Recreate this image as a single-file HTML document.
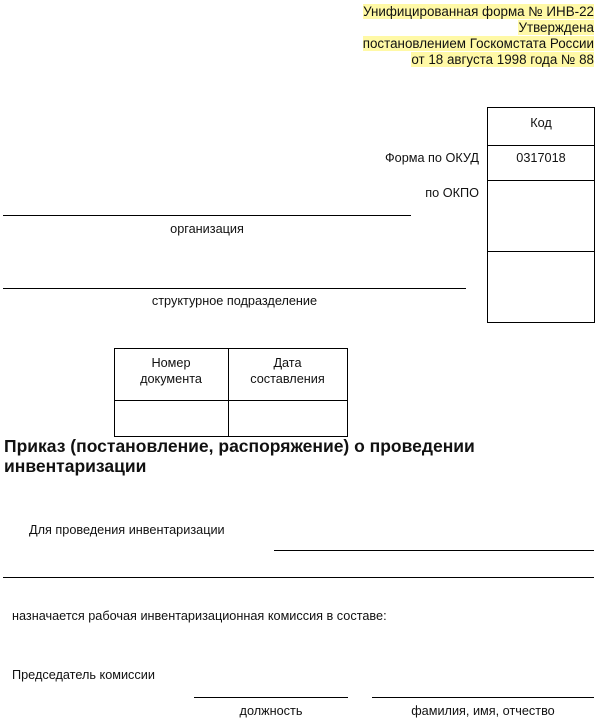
<!DOCTYPE html>
<html><head><meta charset="utf-8"><style>
body{margin:0;width:600px;height:728px;background:#fff;position:relative;font-family:"Liberation Sans",Arial,sans-serif;color:#111;overflow:hidden}
.t{position:absolute;white-space:nowrap;font-size:12.7px;line-height:14px}
.r{text-align:right}
.c{text-align:center}
.h{position:absolute;height:1px;background:#000}
.v{position:absolute;width:1px;background:#000}
.hl{background:#fff9a6}
.top{position:absolute;right:6px;font-size:13.4px;line-height:16px;text-align:right;white-space:nowrap}
</style></head><body>
<div class="top" style="top:4px"><span class="hl">Унифицированная форма № ИНВ-22</span><br><span class="hl">Утверждена</span><br><span class="hl">постановлением Госкомстата России</span><br><span class="hl">от 18 августа 1998 года № 88</span></div>

<div style="position:absolute;left:487px;top:107px;width:106px;height:214px;border:1px solid #000"></div>
<div class="h" style="left:487px;width:108px;top:145px"></div>
<div class="h" style="left:487px;width:108px;top:180px"></div>
<div class="h" style="left:487px;width:108px;top:251px"></div>
<div class="t c" style="left:487px;width:108px;top:116px">Код</div>
<div class="t c" style="left:487px;width:108px;top:151px">0317018</div>
<div class="t r" style="right:121px;top:151px">Форма по ОКУД</div>
<div class="t r" style="right:121px;top:186px">по ОКПО</div>

<div class="h" style="left:3px;width:408px;top:215px"></div>
<div class="t c" style="left:3px;width:408px;top:222px">организация</div>
<div class="h" style="left:3px;width:463px;top:288px"></div>
<div class="t c" style="left:3px;width:463px;top:294px">структурное подразделение</div>

<div style="position:absolute;left:114px;top:348px;width:232px;height:87px;border:1px solid #000"></div>
<div class="v" style="left:228px;top:348px;height:88px"></div>
<div class="h" style="left:114px;width:234px;top:400px"></div>
<div class="t c" style="left:114px;width:114px;top:355px;line-height:16px">Номер<br>документа</div>
<div class="t c" style="left:228px;width:119px;top:355px;line-height:16px">Дата<br>составления</div>

<div class="t" style="left:4px;top:436px;font-size:17.5px;line-height:20px;font-weight:bold">Приказ (постановление, распоряжение) о проведении<br>инвентаризации</div>

<div class="t" style="left:29px;top:523px">Для проведения инвентаризации</div>
<div class="h" style="left:274px;width:320px;top:550px"></div>
<div class="h" style="left:3px;width:591px;top:577px"></div>
<div class="t" style="left:12px;top:609px">назначается рабочая инвентаризационная комиссия в составе:</div>
<div class="t" style="left:12px;top:668px">Председатель комиссии</div>
<div class="h" style="left:194px;width:154px;top:697px"></div>
<div class="h" style="left:372px;width:222px;top:697px"></div>
<div class="t c" style="left:194px;width:154px;top:704px">должность</div>
<div class="t c" style="left:372px;width:222px;top:704px">фамилия, имя, отчество</div>
</body></html>
